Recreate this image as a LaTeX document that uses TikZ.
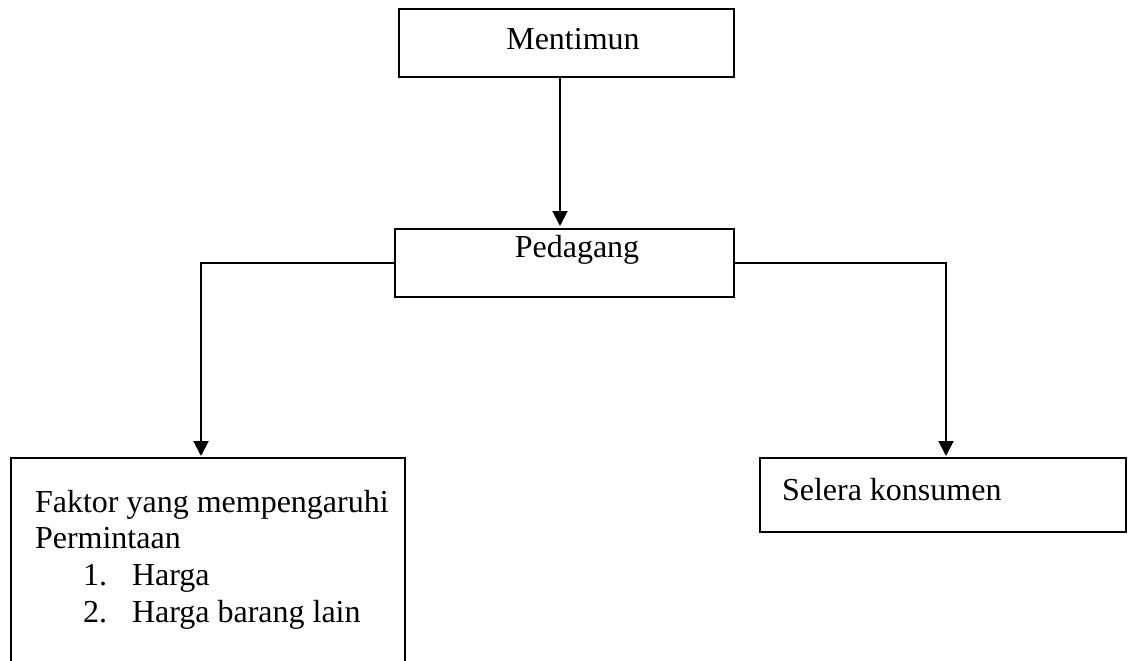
\documentclass[tikz,border=0pt]{standalone}
\usepackage{fontspec}
\setmainfont{Liberation Serif}
\usetikzlibrary{arrows.meta}
\begin{document}
\begin{tikzpicture}[x=1pt,y=-1pt,
  box/.style={draw=black,line width=2.4pt,rectangle,anchor=north west,inner sep=0pt,outer sep=0pt},
  txt/.style={inner sep=0pt,outer sep=0pt,font=\fontsize{32}{36.8}\selectfont},
  conn/.style={draw=black,line width=2pt},
  arr/.style={conn,-{Triangle[length=15pt,width=15pt]}}]
\useasboundingbox (0,0) rectangle (1128,661);
\begin{scope}
\clip (0,0) rectangle (1128,661);
% boxes
\node[box,minimum width=335pt,minimum height=68pt] (ment) at (399,9) {};
\node[box,minimum width=339pt,minimum height=68pt] (ped) at (395,229) {};
\node[box,minimum width=394pt,minimum height=210pt] (fak) at (11,458) {};
\node[box,minimum width=366pt,minimum height=74pt] (sel) at (760,458) {};
% texts
\node[txt,anchor=base] (mtxt) at (573,50) {Mentimun};
\node[txt,anchor=base] (ptxt) at (577,257) {Pedagang};
\node[txt,anchor=base west] (f1) at (35,512) {Faktor yang mempengaruhi};
\node[txt,anchor=base west] (f2) at (35,548) {Permintaan};
\node[txt,anchor=base west] (n1) at (83,585) {1.};
\node[txt,anchor=base west] (h1) at (132,585) {Harga};
\node[txt,anchor=base west] (n2) at (83,622) {2.};
\node[txt,anchor=base west] (h2) at (132,622) {Harga barang lain};
\node[txt,anchor=base west] (stxt) at (782,500) {Selera konsumen};
% connectors
\coordinate (ax) at (560,0);
\coordinate (lx) at (201,0);
\coordinate (rx) at (946,0);
\draw[arr,shorten >=3pt] (ment.south -| ax) -- (ped.north -| ax);
\draw[arr,shorten >=2pt] (ped.west) -| (fak.north -| lx);
\draw[arr,shorten >=2pt] (ped.east) -| (sel.north -| rx);
\end{scope}
\end{tikzpicture}
\end{document}
